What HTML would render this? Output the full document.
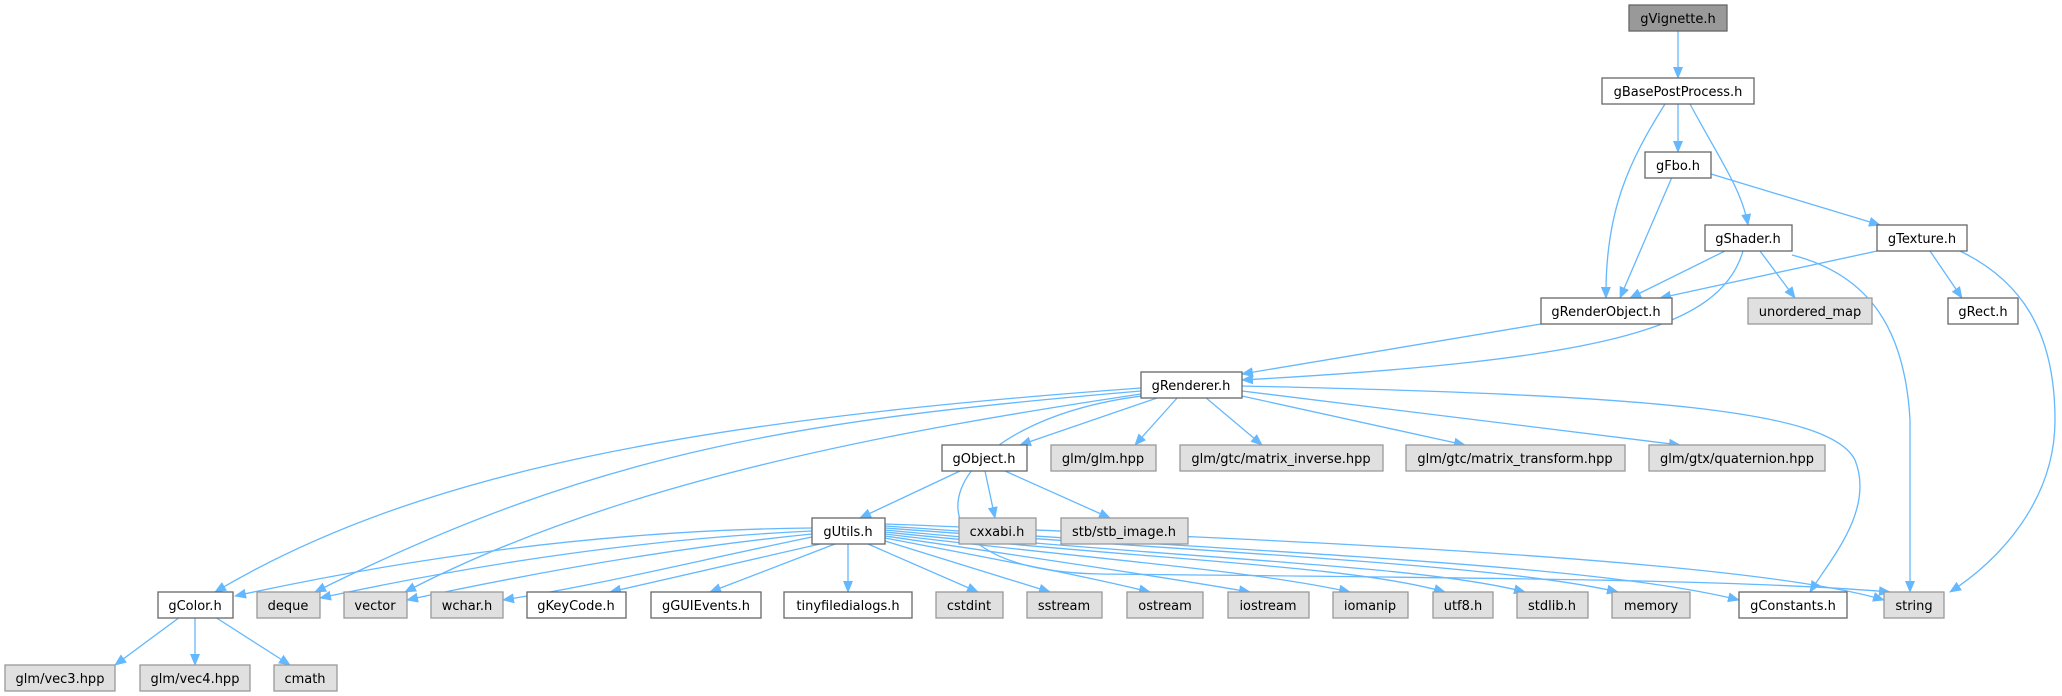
<!DOCTYPE html>
<html><head><meta charset="utf-8"><style>
html,body{margin:0;padding:0;background:#fff;}
svg{display:block;}
text{font-family:"DejaVu Sans","Liberation Sans",sans-serif;font-size:13px;fill:#000;text-anchor:middle;}
.n{fill:#fff;stroke:#666;stroke-width:1.3;}
.g{fill:#e0e0e0;stroke:#999;stroke-width:1.3;}
.r{fill:#999;stroke:#666;stroke-width:1.3;}
path{fill:none;stroke:#63b8ff;stroke-width:1.3;}
</style></head><body>
<svg width="2062" height="696" viewBox="0 0 2062 696" xmlns="http://www.w3.org/2000/svg">
<defs><marker id="a" markerWidth="12" markerHeight="10" refX="11" refY="5" orient="auto" markerUnits="userSpaceOnUse"><polygon points="0,0 12,5 0,10" fill="#63b8ff"/></marker></defs>
<g marker-end="url(#a)">
<path d="M1678,31 L1678,78"/>
<path d="M1665,104 C1630,160 1605,210 1606,298"/>
<path d="M1678,104 L1678,152"/>
<path d="M1690,104 C1720,160 1742,190 1748,225"/>
<path d="M1672,177 L1620,298"/>
<path d="M1711,174 L1880,225"/>
<path d="M1725,251 L1630,298"/>
<path d="M1760,251 L1795,298"/>
<path d="M1743,251 C1720,330 1600,360 1242,380"/>
<path d="M1792,255 C1870,275 1905,330 1910,420 L1910,592"/>
<path d="M1877,251 L1660,298"/>
<path d="M1930,251 L1962,298"/>
<path d="M1960,251 C2020,280 2055,330 2055,420 C2055,500 2000,560 1950,592"/>
<path d="M1541,324 L1242,374"/>
<path d="M1141,388 C700,420 420,470 215,592"/>
<path d="M1141,391 C800,420 600,450 315,592"/>
<path d="M1141,394 C900,430 620,480 405,592"/>
<path d="M1160,397 L1020,445"/>
<path d="M1178,397 L1135,445"/>
<path d="M1205,397 L1262,445"/>
<path d="M1242,396 L1465,445"/>
<path d="M1242,391 L1680,445"/>
<path d="M1242,386 C1650,395 1830,410 1855,460 C1875,510 1830,560 1810,592"/>
<path d="M1150,395 C930,420 880,570 1100,574 C1500,578 1750,580 1890,592"/>
<path d="M960,471 L860,518"/>
<path d="M985,471 L995,518"/>
<path d="M1005,471 L1110,518"/>
<path d="M812,528 C600,530 400,560 235,596"/>
<path d="M812,531 C620,540 450,570 320,598"/>
<path d="M812,534 C650,550 500,580 407,600"/>
<path d="M812,537 C700,560 600,585 503,600"/>
<path d="M820,544 L610,592"/>
<path d="M835,544 L710,592"/>
<path d="M848,544 L848,592"/>
<path d="M868,544 L978,592"/>
<path d="M885,541 L1050,592"/>
<path d="M885,538 C1000,560 1080,575 1150,592"/>
<path d="M885,536 C1050,560 1150,575 1250,592"/>
<path d="M885,534 C1100,560 1250,570 1350,592"/>
<path d="M885,532 C1150,560 1350,565 1445,592"/>
<path d="M885,530 C1200,560 1420,565 1525,592"/>
<path d="M885,528 C1250,555 1500,565 1618,592"/>
<path d="M885,526 C1300,555 1600,565 1739,600"/>
<path d="M885,524 C1300,540 1750,560 1884,600"/>
<path d="M180,617 L115,665"/>
<path d="M195,617 L195,665"/>
<path d="M215,617 L290,665"/>
</g>
<rect class="r" x="1629" y="5" width="98" height="26"/><text x="1678" y="23">gVignette.h</text>
<rect class="n" x="1602" y="78" width="152" height="26"/><text x="1678" y="96">gBasePostProcess.h</text>
<rect class="n" x="1645" y="152" width="66" height="26"/><text x="1678" y="170">gFbo.h</text>
<rect class="n" x="1705" y="225" width="87" height="26"/><text x="1748" y="243">gShader.h</text>
<rect class="n" x="1877" y="225" width="90" height="26"/><text x="1922" y="243">gTexture.h</text>
<rect class="n" x="1541" y="298" width="131" height="26"/><text x="1606" y="316">gRenderObject.h</text>
<rect class="g" x="1748" y="298" width="124" height="26"/><text x="1810" y="316">unordered_map</text>
<rect class="n" x="1948" y="298" width="70" height="26"/><text x="1983" y="316">gRect.h</text>
<rect class="n" x="1141" y="372" width="101" height="26"/><text x="1191" y="390">gRenderer.h</text>
<rect class="n" x="942" y="445" width="85" height="26"/><text x="984" y="463">gObject.h</text>
<rect class="g" x="1051" y="445" width="105" height="26"/><text x="1103" y="463">glm/glm.hpp</text>
<rect class="g" x="1180" y="445" width="203" height="26"/><text x="1281" y="463">glm/gtc/matrix_inverse.hpp</text>
<rect class="g" x="1406" y="445" width="219" height="26"/><text x="1515" y="463">glm/gtc/matrix_transform.hpp</text>
<rect class="g" x="1649" y="445" width="176" height="26"/><text x="1737" y="463">glm/gtx/quaternion.hpp</text>
<rect class="n" x="812" y="518" width="73" height="26"/><text x="848" y="536">gUtils.h</text>
<rect class="g" x="959" y="518" width="77" height="26"/><text x="997" y="536">cxxabi.h</text>
<rect class="g" x="1061" y="518" width="127" height="26"/><text x="1124" y="536">stb/stb_image.h</text>
<rect class="n" x="158" y="592" width="75" height="26"/><text x="195" y="610">gColor.h</text>
<rect class="g" x="257" y="592" width="63" height="26"/><text x="288" y="610">deque</text>
<rect class="g" x="344" y="592" width="63" height="26"/><text x="375" y="610">vector</text>
<rect class="g" x="431" y="592" width="72" height="26"/><text x="467" y="610">wchar.h</text>
<rect class="n" x="527" y="592" width="99" height="26"/><text x="576" y="610">gKeyCode.h</text>
<rect class="n" x="651" y="592" width="110" height="26"/><text x="706" y="610">gGUIEvents.h</text>
<rect class="n" x="784" y="592" width="128" height="26"/><text x="848" y="610">tinyfiledialogs.h</text>
<rect class="g" x="936" y="592" width="67" height="26"/><text x="969" y="610">cstdint</text>
<rect class="g" x="1027" y="592" width="75" height="26"/><text x="1064" y="610">sstream</text>
<rect class="g" x="1127" y="592" width="76" height="26"/><text x="1165" y="610">ostream</text>
<rect class="g" x="1228" y="592" width="81" height="26"/><text x="1268" y="610">iostream</text>
<rect class="g" x="1333" y="592" width="75" height="26"/><text x="1370" y="610">iomanip</text>
<rect class="g" x="1433" y="592" width="60" height="26"/><text x="1463" y="610">utf8.h</text>
<rect class="g" x="1517" y="592" width="71" height="26"/><text x="1552" y="610">stdlib.h</text>
<rect class="g" x="1612" y="592" width="78" height="26"/><text x="1651" y="610">memory</text>
<rect class="n" x="1739" y="592" width="108" height="26"/><text x="1793" y="610">gConstants.h</text>
<rect class="g" x="1884" y="592" width="60" height="26"/><text x="1914" y="610">string</text>
<rect class="g" x="5" y="665" width="110" height="26"/><text x="60" y="683">glm/vec3.hpp</text>
<rect class="g" x="140" y="665" width="110" height="26"/><text x="195" y="683">glm/vec4.hpp</text>
<rect class="g" x="274" y="665" width="63" height="26"/><text x="305" y="683">cmath</text>
</svg>
</body></html>
